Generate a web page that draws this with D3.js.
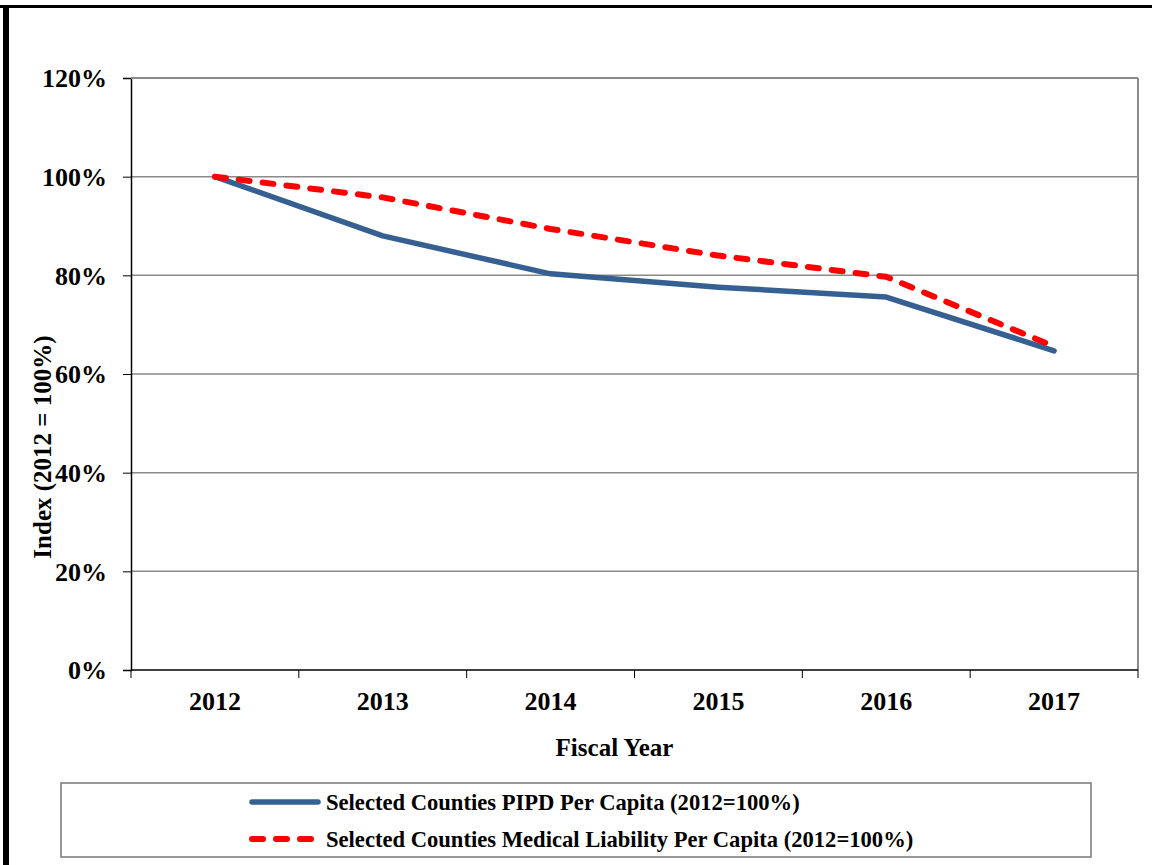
<!DOCTYPE html>
<html>
<head>
<meta charset="utf-8">
<script src="https://cdn.jsdelivr.net/npm/d3@7"></script>
<style>
  html, body { margin: 0; padding: 0; background: #fff; }
  svg { display: block; }
  text { font-family: "Liberation Serif", "Times New Roman", serif; font-weight: bold; fill: #000; }
</style>
</head>
<body>
<svg id="chart" width="1152" height="865"></svg>
<script>
// Fiscal years on the category axis
const years = ["2012", "2013", "2014", "2015", "2016", "2017"];
// Index values, 2012 = 100%
const pipdPerCapita = [1.000, 0.880, 0.803, 0.776, 0.756, 0.647];
const medicalLiabilityPerCapita = [1.000, 0.958, 0.894, 0.840, 0.797, 0.656];
// Value axis ticks
const yTicks = [0, 0.2, 0.4, 0.6, 0.8, 1.0, 1.2];
const seriesNames = [
  "Selected Counties PIPD Per Capita (2012=100%)",
  "Selected Counties Medical Liability Per Capita (2012=100%)"
];

const svg = d3.select("#chart");
const plot = { left: 131, top: 78, right: 1138, bottom: 670 };

// Frame around the figure (top and left edges)
svg.append("rect").attr("x", 0).attr("y", 5).attr("width", 1152).attr("height", 3).attr("fill", "#000");
svg.append("rect").attr("x", 3).attr("y", 5).attr("width", 6).attr("height", 860).attr("fill", "#000");

const x = d3.scaleBand().domain(years).range([plot.left, plot.right]).padding(0);
const y = d3.scaleLinear().domain([0, 1.2]).range([plot.bottom, plot.top]);

// Horizontal gridlines
svg.append("g")
  .selectAll("line")
  .data(yTicks.filter(t => t > 0))
  .join("line")
  .attr("x1", plot.left).attr("x2", plot.right)
  .attr("y1", d => y(d)).attr("y2", d => y(d))
  .attr("stroke", "#8a8a8a").attr("stroke-width", 1.5);

// Right border of the plot area
svg.append("line")
  .attr("x1", plot.right).attr("x2", plot.right)
  .attr("y1", plot.top).attr("y2", plot.bottom)
  .attr("stroke", "#8a8a8a").attr("stroke-width", 2);

// Y axis
const yAxis = svg.append("g")
  .attr("transform", `translate(${plot.left},0)`)
  .call(d3.axisLeft(y).tickValues(yTicks).tickFormat(d3.format(".0%")).tickSize(8).tickPadding(16));
yAxis.select(".domain").attr("stroke", "#000").attr("stroke-width", 1.5);
yAxis.selectAll(".tick line").attr("stroke", "#000").attr("stroke-width", 1);
yAxis.selectAll(".tick text")
  .attr("font-size", 26).attr("font-family", "Liberation Serif").attr("font-weight", "bold")
  .attr("fill", "#000").attr("dy", "0.34em");

// X axis with ticks between categories
const xAxis = svg.append("g")
  .attr("transform", `translate(0,${plot.bottom})`)
  .call(d3.axisBottom(x).tickSize(0).tickPadding(0));
xAxis.select(".domain").remove();
xAxis.append("line")
  .attr("x1", plot.left).attr("x2", plot.right)
  .attr("stroke", "#000").attr("stroke-width", 1.5);
const boundaries = years.map(d => x(d)).concat([plot.right]);
xAxis.selectAll("line.sep")
  .data(boundaries)
  .join("line").attr("class", "sep")
  .attr("x1", d => d).attr("x2", d => d)
  .attr("y1", 0).attr("y2", 8)
  .attr("stroke", "#000").attr("stroke-width", 1);
xAxis.selectAll(".tick text")
  .attr("font-size", 26).attr("font-family", "Liberation Serif").attr("font-weight", "bold")
  .attr("fill", "#000").attr("y", 40).attr("dy", 0);

// Top border of the plot area
svg.append("line")
  .attr("x1", plot.left).attr("x2", plot.right)
  .attr("y1", plot.top).attr("y2", plot.top)
  .attr("stroke", "#8a8a8a").attr("stroke-width", 2);

// Axis titles
svg.append("text")
  .attr("x", (plot.left + plot.right) / 2 - 20).attr("y", 756)
  .attr("text-anchor", "middle").attr("font-size", 25)
  .text("Fiscal Year");
svg.append("text")
  .attr("transform", "translate(51,447) rotate(-90)")
  .attr("text-anchor", "middle").attr("font-size", 25)
  .text("Index (2012 = 100%)");

// Series lines
const line = d3.line()
  .x((d, i) => x(years[i]) + x.bandwidth() / 2)
  .y(d => y(d));

svg.append("path")
  .datum(pipdPerCapita)
  .attr("d", line)
  .attr("fill", "none")
  .attr("stroke", "#376092")
  .attr("stroke-width", 5.5)
  .attr("stroke-linejoin", "round")
  .attr("stroke-linecap", "round");

svg.append("path")
  .datum(medicalLiabilityPerCapita)
  .attr("d", line)
  .attr("fill", "none")
  .attr("stroke", "#ff0000")
  .attr("stroke-width", 6)
  .attr("stroke-dasharray", "11,13")
  .attr("stroke-linejoin", "round")
  .attr("stroke-linecap", "round");

// Legend
const legend = svg.append("g");
legend.append("rect")
  .attr("x", 61).attr("y", 783).attr("width", 1030).attr("height", 74)
  .attr("fill", "#fff").attr("stroke", "#777").attr("stroke-width", 1.5);

const legendStyles = [
  { color: "#376092", width: 5.5, dash: null },
  { color: "#ff0000", width: 6, dash: "11,13" }
];
seriesNames.forEach((name, i) => {
  const cy = 802 + i * 37;
  legend.append("line")
    .attr("x1", 252).attr("x2", 318)
    .attr("y1", cy).attr("y2", cy)
    .attr("stroke", legendStyles[i].color)
    .attr("stroke-width", legendStyles[i].width)
    .attr("stroke-linecap", "round")
    .attr("stroke-dasharray", legendStyles[i].dash);
  legend.append("text")
    .attr("x", 326).attr("y", cy + 8)
    .attr("font-size", 22.6)
    .text(name);
});
</script>
</body>
</html>
